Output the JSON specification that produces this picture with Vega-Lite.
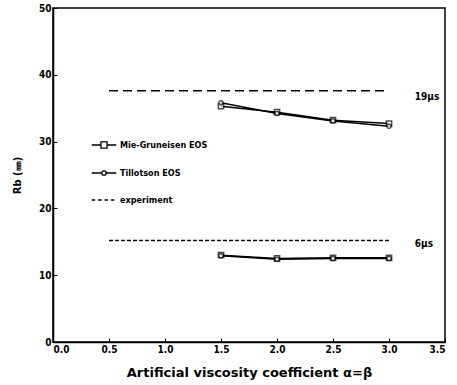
{
  "$schema": "https://vega.github.io/schema/vega-lite/v6.json",
  "width": 392,
  "height": 334,
  "autosize": {"type": "none"},
  "padding": {"left": 53, "top": 8, "right": 12, "bottom": 43},
  "background": "white",
  "config": {
    "view": {"stroke": "black", "strokeWidth": 1.5},
    "font": "DejaVu Sans Condensed",
    "axis": {
      "grid": false,
      "domainColor": "black",
      "domainWidth": 1.5,
      "tickColor": "black",
      "tickSize": -4,
      "labelColor": "black",
      "labelFont": "DejaVu Sans Condensed",
      "labelFontWeight": "bold",
      "labelFontSize": 10,
      "titleColor": "black",
      "titleFont": "DejaVu Sans",
      "titleFontWeight": "bold"
    }
  },
  "datasets": {
    "sim": [
      {"model": "Mie-Gruneisen EOS", "time": "19μs", "alpha": 1.5, "Rb": 35.3},
      {"model": "Mie-Gruneisen EOS", "time": "19μs", "alpha": 2.0, "Rb": 34.4},
      {"model": "Mie-Gruneisen EOS", "time": "19μs", "alpha": 2.5, "Rb": 33.2},
      {"model": "Mie-Gruneisen EOS", "time": "19μs", "alpha": 3.0, "Rb": 32.7},
      {"model": "Tillotson EOS", "time": "19μs", "alpha": 1.5, "Rb": 35.8},
      {"model": "Tillotson EOS", "time": "19μs", "alpha": 2.0, "Rb": 34.2},
      {"model": "Tillotson EOS", "time": "19μs", "alpha": 2.5, "Rb": 33.1},
      {"model": "Tillotson EOS", "time": "19μs", "alpha": 3.0, "Rb": 32.3},
      {"model": "Mie-Gruneisen EOS", "time": "6μs", "alpha": 1.5, "Rb": 13.0},
      {"model": "Mie-Gruneisen EOS", "time": "6μs", "alpha": 2.0, "Rb": 12.5},
      {"model": "Mie-Gruneisen EOS", "time": "6μs", "alpha": 2.5, "Rb": 12.6},
      {"model": "Mie-Gruneisen EOS", "time": "6μs", "alpha": 3.0, "Rb": 12.6},
      {"model": "Tillotson EOS", "time": "6μs", "alpha": 1.5, "Rb": 12.9},
      {"model": "Tillotson EOS", "time": "6μs", "alpha": 2.0, "Rb": 12.4},
      {"model": "Tillotson EOS", "time": "6μs", "alpha": 2.5, "Rb": 12.5},
      {"model": "Tillotson EOS", "time": "6μs", "alpha": 3.0, "Rb": 12.5}
    ],
    "exp": [
      {"time": "19μs", "start": 0.5, "end": 3.0, "Rb": 37.6},
      {"time": "6μs", "start": 0.5, "end": 3.0, "Rb": 15.2}
    ],
    "labels": [
      {"label": "19μs", "alpha": 3.23, "Rb": 36.7},
      {"label": "6μs", "alpha": 3.23, "Rb": 14.7}
    ],
    "legend": [
      {"item": "Mie-Gruneisen EOS"},
      {"item": "Tillotson EOS"},
      {"item": "experiment"}
    ]
  },
  "layer": [
    {
      "data": {"name": "exp"},
      "mark": {"type": "rule", "color": "black", "strokeWidth": 1.5},
      "encoding": {
        "x": {"field": "start", "type": "quantitative", "scale": {"domain": [0, 3.5]},
              "axis": {"values": [0, 0.5, 1, 1.5, 2, 2.5, 3, 3.5], "format": ".1f", "title": "Artificial viscosity coefficient  α=β", "titleFontSize": 13, "titlePadding": 12, "labelPadding": 6}},
        "x2": {"field": "end"},
        "y": {"field": "Rb", "type": "quantitative", "scale": {"domain": [0, 50]},
              "axis": {"values": [0, 10, 20, 30, 40, 50], "title": "Rb (㎜)", "titleFontSize": 10, "titlePadding": 16, "labelPadding": 6}},
        "strokeDash": {"field": "time", "type": "nominal", "scale": {"domain": ["19μs", "6μs"], "range": [[9, 5], [4, 2]]}, "legend": null}
      }
    },
    {
      "data": {"name": "sim"},
      "mark": {"type": "line", "color": "black", "strokeWidth": 1.5},
      "encoding": {
        "x": {"field": "alpha", "type": "quantitative"},
        "y": {"field": "Rb", "type": "quantitative"},
        "detail": [{"field": "model"}, {"field": "time"}]
      }
    },
    {
      "data": {"name": "sim"},
      "transform": [{"filter": "datum.model == 'Mie-Gruneisen EOS'"}],
      "mark": {"type": "point", "shape": "square", "size": 28, "filled": true, "fill": "white", "stroke": "black", "strokeWidth": 1.5},
      "encoding": {
        "x": {"field": "alpha", "type": "quantitative"},
        "y": {"field": "Rb", "type": "quantitative"}
      }
    },
    {
      "data": {"name": "sim"},
      "transform": [{"filter": "datum.model == 'Tillotson EOS'"}],
      "mark": {"type": "point", "shape": "circle", "size": 18, "filled": true, "fill": "white", "stroke": "black", "strokeWidth": 1.3},
      "encoding": {
        "x": {"field": "alpha", "type": "quantitative"},
        "y": {"field": "Rb", "type": "quantitative"}
      }
    },
    {
      "data": {"name": "labels"},
      "mark": {"type": "text", "align": "left", "baseline": "middle", "font": "DejaVu Sans Condensed", "fontWeight": "bold", "fontSize": 10, "color": "black"},
      "encoding": {
        "x": {"field": "alpha", "type": "quantitative"},
        "y": {"field": "Rb", "type": "quantitative"},
        "text": {"field": "label"}
      }
    },
    {
      "data": {"name": "legend"},
      "mark": {"type": "point", "opacity": 0},
      "encoding": {
        "shape": {
          "field": "item", "type": "nominal",
          "scale": {
            "domain": ["Mie-Gruneisen EOS", "Tillotson EOS", "experiment"],
            "range": [
              "M-1,0H-0.25M0.25,0H1M-0.25,-0.25H0.25V0.25H-0.25Z",
              "M-1,0H-0.18M0.18,0H1M0.18,0A0.18,0.18 0 1,1 -0.18,0A0.18,0.18 0 1,1 0.18,0Z",
              "M-1,0H-0.72M-0.48,0H-0.2M0.04,0H0.32M0.56,0H0.84"
            ]
          },
          "legend": {
            "title": null,
            "orient": "none",
            "legendX": 38,
            "legendY": 124,
            "symbolSize": 600,
            "symbolOpacity": 1,
            "symbolStrokeColor": "black",
            "symbolFillColor": "white",
            "symbolStrokeWidth": 1.3,
            "rowPadding": 9,
            "labelFont": "DejaVu Sans Condensed",
            "labelFontWeight": "bold",
            "labelFontSize": 9,
            "labelColor": "black",
            "labelOffset": 3
          }
        }
      }
    }
  ]
}
